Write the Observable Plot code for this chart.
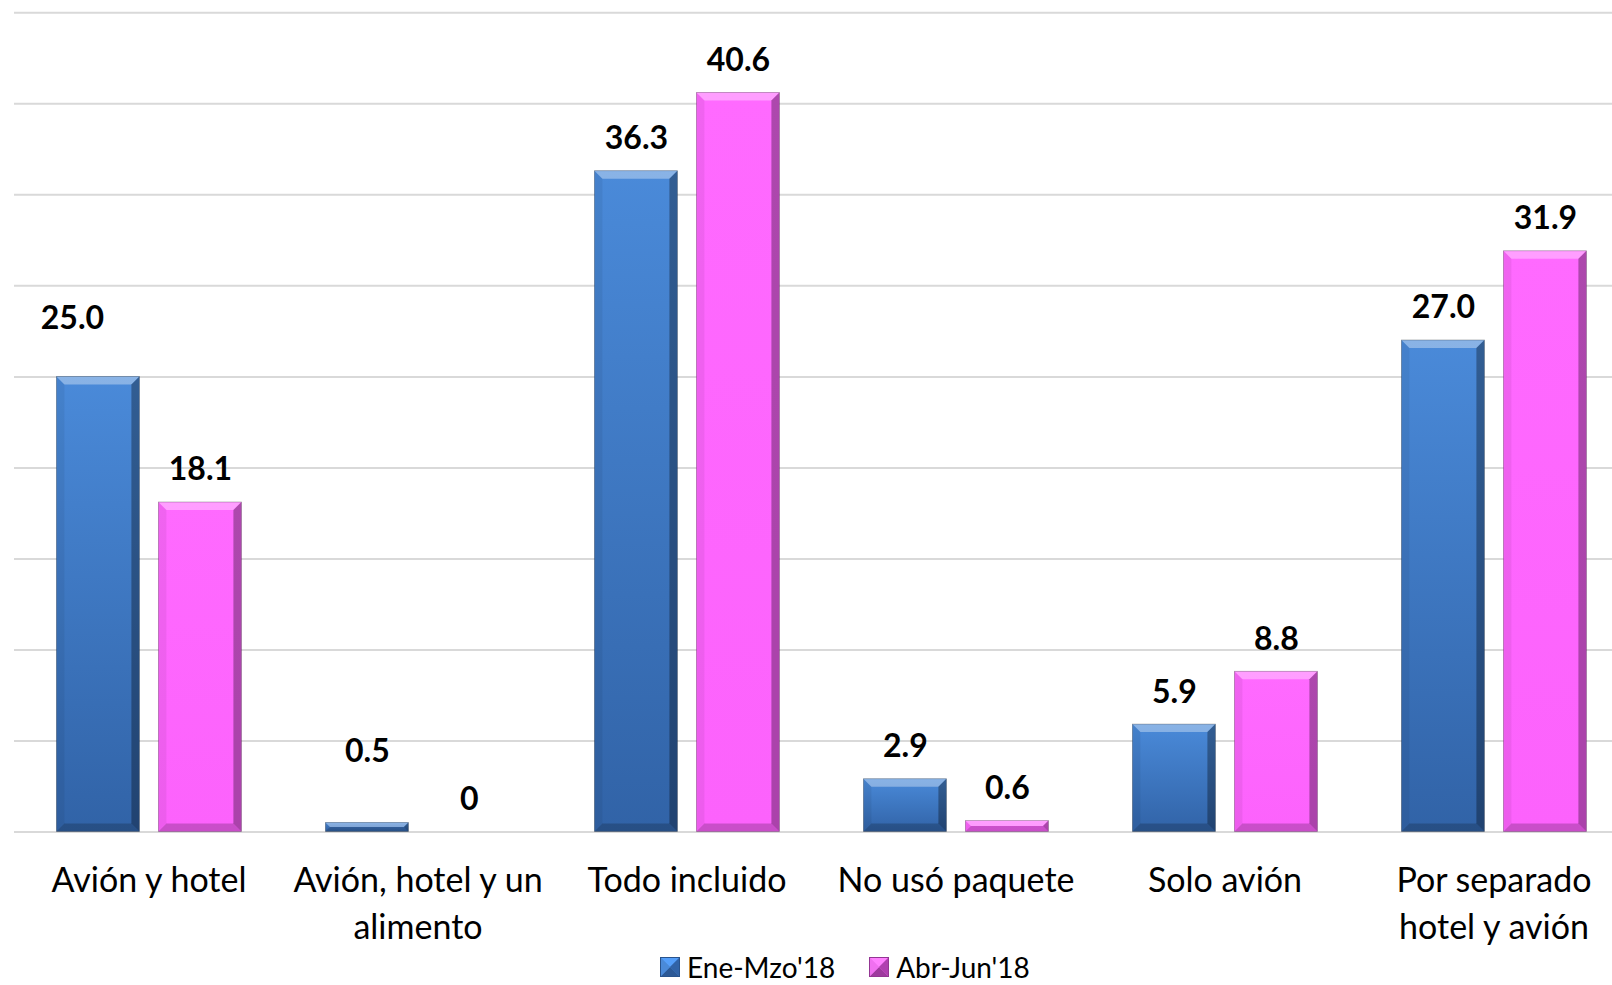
<!DOCTYPE html>
<html>
<head>
<meta charset="utf-8">
<script src="https://cdn.jsdelivr.net/npm/d3@7"></script>
<script src="https://cdn.jsdelivr.net/npm/@observablehq/plot@0.6"></script>
<style>
  html, body { margin: 0; padding: 0; background: #fff; overflow: hidden; }
  body { font-family: Lato, "Open Sans", sans-serif; width: 1612px; height: 985px; }
  #chart svg { display: block; overflow: visible; }
  #legend { height: 34px; display: flex; align-items: center; padding-left: 660px; font-size: 28px; line-height: 1; color: #000; }
  .item { display: flex; align-items: center; margin-right: 34px; }
  .item svg { margin-right: 7px; }
</style>
</head>
<body>
<div id="chart"></div>
<div id="legend"></div>
<script>
// ---- data ----
const categories = [
  "Avión y hotel",
  "Avión, hotel y un\nalimento",
  "Todo incluido",
  "No usó paquete",
  "Solo avión",
  "Por separado\nhotel y avión"
];
const series = ["Ene-Mzo'18", "Abr-Jun'18"];
const eneMzo = [25.0, 0.5, 36.3, 2.9, 5.9, 27.0];
const abrJun = [18.1, 0, 40.6, 0.6, 8.8, 31.9];
const yTicks = [0, 5, 10, 15, 20, 25, 30, 35, 40, 45];

// ---- styling (not data) ----
const fills = ["url(#gradBlue)", "url(#gradPink)"];
const fmt = v => v === 0 ? "0" : v.toFixed(1);
// manual label nudges as in the original (dx, dy in px)
const nudge = new Map([
  [categories[0] + "|" + series[0], [-26, -48]],
  [categories[1] + "|" + series[0], [0, -61]]
]);

const data = categories.flatMap((c, i) => [
  {category: c, series: series[0], value: eneMzo[i]},
  {category: c, series: series[1], value: abrJun[i]}
]);
const key = d => d.category + "|" + d.series;
const normal = data.filter(d => !nudge.has(key(d)));
const nudged = data.filter(d => nudge.has(key(d)));

const W = 1612, H = 950;
const labelOpts = {fx: "category", x: "series", y: "value", text: d => fmt(d.value),
  lineAnchor: "bottom", fontSize: 32, fontWeight: 700, fill: "#000"};

const plot = Plot.plot({
  width: W,
  height: H,
  marginTop: 12.3,
  marginBottom: H - 831.5,
  marginLeft: 11.6,
  marginRight: -18.7,
  style: {fontFamily: "Lato, 'Open Sans', sans-serif", background: "white", overflow: "visible"},
  fx: {domain: categories, padding: 0, axis: null},
  x: {domain: series, paddingInner: 0.187, paddingOuter: 0.40, axis: null},
  y: {domain: [0, 45], axis: null},
  color: {domain: series, range: fills},
  marks: [
    Plot.ruleY(yTicks, {stroke: "#d9d9d9", strokeWidth: 2}),
    Plot.barY(data, {fx: "category", x: "series", y: "value", fill: "series"}),
    Plot.text(normal, {...labelOpts, dy: -22}),
    ...nudged.map(d => Plot.text([d], {...labelOpts, dx: nudge.get(key(d))[0], dy: nudge.get(key(d))[1]})),
    Plot.axisFx({anchor: "bottom", label: null, tickSize: 0, tickPadding: 27.5,
      fontSize: 34, lineHeight: 1.365, fill: "#000"})
  ]
});

// gradients
const svg = d3.select(plot);
const defs = svg.insert("defs", ":first-child");
const gb = defs.append("linearGradient").attr("id", "gradBlue").attr("x1", 0).attr("y1", 0).attr("x2", 0).attr("y2", 1);
gb.append("stop").attr("offset", "0%").attr("stop-color", "#4a8ad9");
gb.append("stop").attr("offset", "100%").attr("stop-color", "#3163a7");
const gp = defs.append("linearGradient").attr("id", "gradPink").attr("x1", 0).attr("y1", 0).attr("x2", 0).attr("y2", 1);
gp.append("stop").attr("offset", "0%").attr("stop-color", "#ff6aff");
gp.append("stop").attr("offset", "100%").attr("stop-color", "#fc62fc");

// bevel decoration on each bar
plot.querySelectorAll('g[aria-label="bar"] rect').forEach(r => {
  const x = +r.getAttribute("x"), y = +r.getAttribute("y");
  const w = +r.getAttribute("width"), h = +r.getAttribute("height");
  if (!(h > 1)) return;
  const b = Math.min(8, h / 2, w / 2);
  const p = d3.select(r.parentNode);
  const poly = (pts, fill) => p.append("polygon").attr("points", pts.map(q => q.join(",")).join(" ")).attr("fill", fill);
  poly([[x, y], [x + w, y], [x + w - b, y + b], [x + b, y + b]], "rgba(255,255,255,0.35)");
  poly([[x, y], [x + b, y + b], [x + b, y + h - b], [x, y + h]], "rgba(0,0,0,0.06)");
  poly([[x + w, y], [x + w, y + h], [x + w - b, y + h - b], [x + w - b, y + b]], "rgba(0,0,0,0.32)");
  poly([[x, y + h], [x + b, y + h - b], [x + w - b, y + h - b], [x + w, y + h]], "rgba(0,0,0,0.2)");
  p.append("rect").attr("x", x).attr("y", y).attr("width", w).attr("height", h)
    .attr("fill", "none").attr("stroke", "rgba(0,0,0,0.3)").attr("stroke-width", 0.8);
});

document.getElementById("chart").appendChild(plot);

// legend
const legend = d3.select("#legend");
const legendColors = [["#4a8ad9", "#3163a7"], ["#f070f0", "#b040b0"]];
series.forEach((s, i) => {
  const it = legend.append("div").attr("class", "item");
  const sv = it.append("svg").attr("width", 20).attr("height", 20);
  const [c1, c2] = legendColors[i];
  sv.append("rect").attr("width", 20).attr("height", 20).attr("fill", c1);
  sv.append("polygon").attr("points", "0,0 20,0 10,10").attr("fill", d3.color(c1).brighter(0.4));
  sv.append("polygon").attr("points", "20,0 20,20 10,10").attr("fill", c2);
  sv.append("polygon").attr("points", "0,20 20,20 10,10").attr("fill", d3.color(c2).darker(0.3));
  sv.append("polygon").attr("points", "0,0 0,20 10,10").attr("fill", c1);
  sv.append("rect").attr("x", 0.5).attr("y", 0.5).attr("width", 19).attr("height", 19).attr("fill", "none").attr("stroke", d3.color(c2).darker(0.5));
  it.append("span").text(s);
});
</script>
</body>
</html>
